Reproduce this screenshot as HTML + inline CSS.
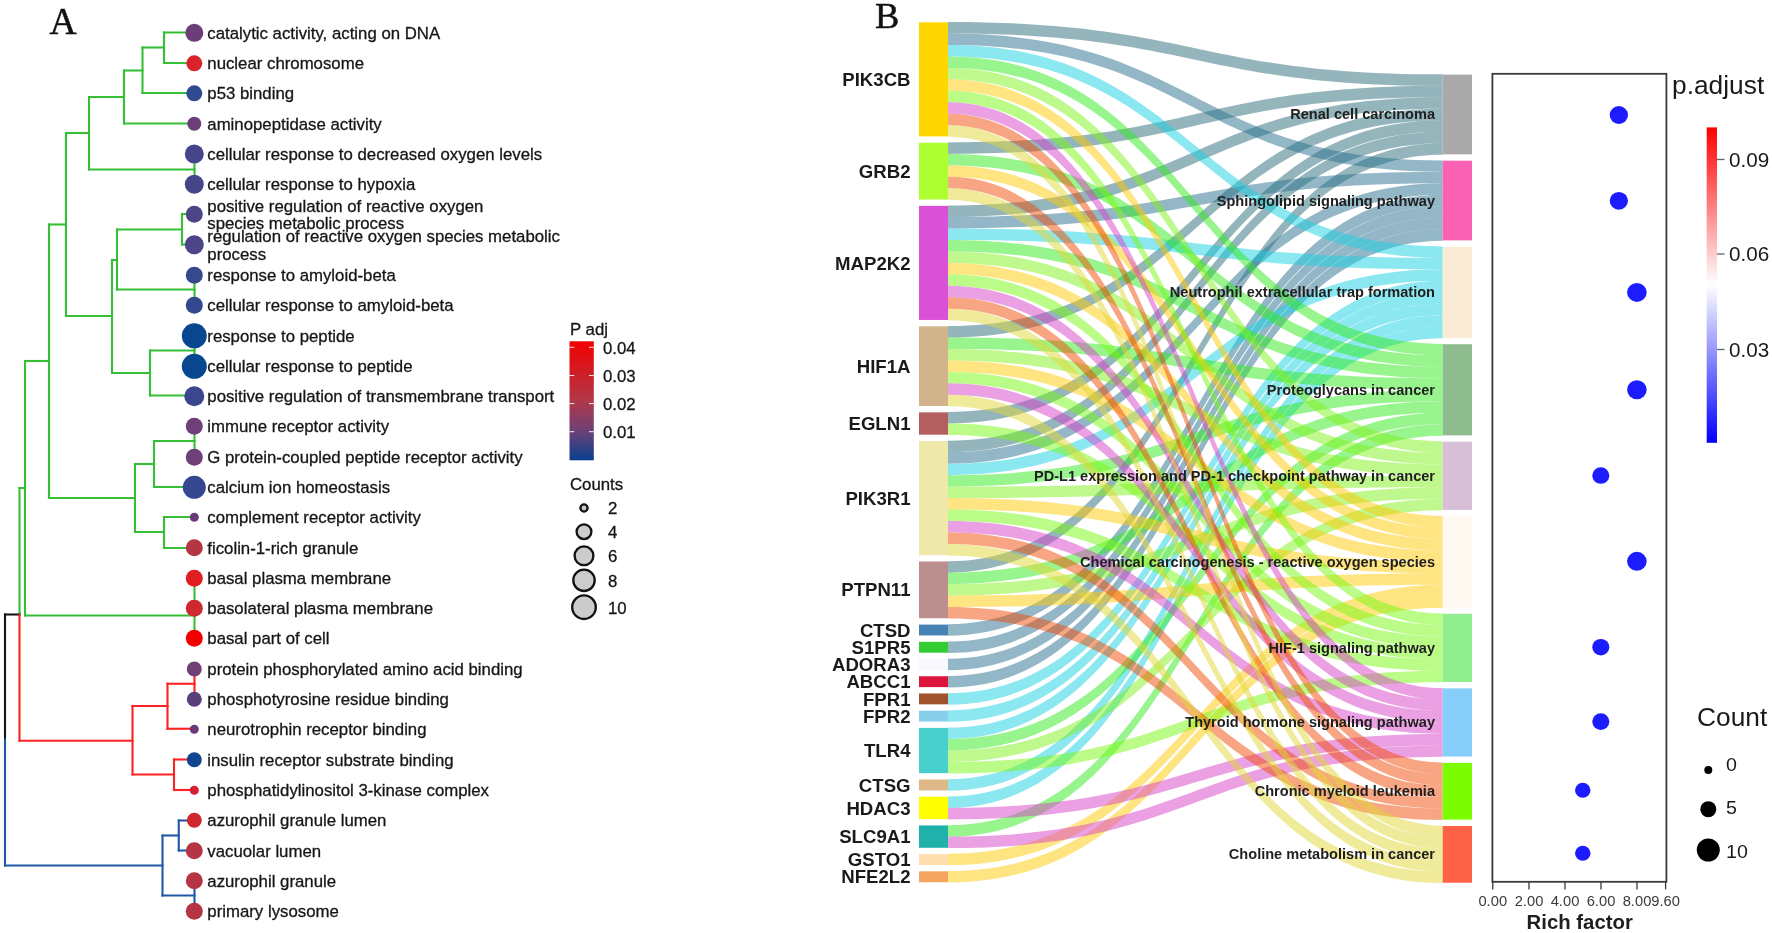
<!DOCTYPE html>
<html lang="en"><head><meta charset="utf-8"><title>Figure</title>
<style>html,body{margin:0;padding:0;background:#fff}body{width:1772px;height:933px;overflow:hidden}svg{display:block;filter:blur(0.4px)}</style>
</head><body>
<svg width="1772" height="933" viewBox="0 0 1772 933">
<g id="panelA">
<text x="49.5" y="33.8" font-family='"Liberation Serif", "Times New Roman", serif' font-size="37.5" fill="#111" stroke="#111" stroke-width="0.5">A</text>
<g stroke-linecap="square" fill="none" stroke-width="2.1">
<line x1="164" y1="32.5" x2="164" y2="63" stroke="#36bf36"/>
<line x1="164" y1="32.5" x2="194" y2="32.5" stroke="#36bf36"/>
<line x1="164" y1="63" x2="194" y2="63" stroke="#36bf36"/>
<line x1="142.5" y1="47.5" x2="142.5" y2="93" stroke="#36bf36"/>
<line x1="142.5" y1="47.5" x2="164" y2="47.5" stroke="#36bf36"/>
<line x1="142.5" y1="93" x2="194" y2="93" stroke="#36bf36"/>
<line x1="124" y1="70.5" x2="124" y2="123.5" stroke="#36bf36"/>
<line x1="124" y1="70.5" x2="142.5" y2="70.5" stroke="#36bf36"/>
<line x1="124" y1="123.5" x2="194" y2="123.5" stroke="#36bf36"/>
<line x1="89" y1="97" x2="89" y2="169.5" stroke="#36bf36"/>
<line x1="89" y1="97" x2="124" y2="97" stroke="#36bf36"/>
<line x1="89" y1="169.5" x2="194.5" y2="169.5" stroke="#36bf36"/>
<line x1="194.5" y1="153.75" x2="194.5" y2="184" stroke="#36bf36"/>
<line x1="66" y1="133" x2="66" y2="316" stroke="#36bf36"/>
<line x1="66" y1="133" x2="89" y2="133" stroke="#36bf36"/>
<line x1="66" y1="316" x2="112" y2="316" stroke="#36bf36"/>
<line x1="49" y1="224.5" x2="49" y2="498" stroke="#36bf36"/>
<line x1="49" y1="224.5" x2="66" y2="224.5" stroke="#36bf36"/>
<line x1="49" y1="498" x2="135" y2="498" stroke="#36bf36"/>
<line x1="25" y1="361" x2="25" y2="615.5" stroke="#36bf36"/>
<line x1="25" y1="361" x2="49" y2="361" stroke="#36bf36"/>
<line x1="25" y1="615.5" x2="194.5" y2="615.5" stroke="#36bf36"/>
<line x1="112" y1="260" x2="112" y2="373" stroke="#36bf36"/>
<line x1="112" y1="260" x2="117" y2="260" stroke="#36bf36"/>
<line x1="117" y1="229.5" x2="117" y2="289.5" stroke="#36bf36"/>
<line x1="117" y1="229.5" x2="182" y2="229.5" stroke="#36bf36"/>
<line x1="117" y1="289.5" x2="194.5" y2="289.5" stroke="#36bf36"/>
<line x1="194.5" y1="275" x2="194.5" y2="305" stroke="#36bf36"/>
<line x1="182" y1="214" x2="182" y2="244.5" stroke="#36bf36"/>
<line x1="182" y1="214" x2="194" y2="214" stroke="#36bf36"/>
<line x1="182" y1="244.5" x2="194" y2="244.5" stroke="#36bf36"/>
<line x1="112" y1="373" x2="150" y2="373" stroke="#36bf36"/>
<line x1="150" y1="350.5" x2="150" y2="395.5" stroke="#36bf36"/>
<line x1="150" y1="350.5" x2="194.5" y2="350.5" stroke="#36bf36"/>
<line x1="150" y1="395.5" x2="194" y2="395.5" stroke="#36bf36"/>
<line x1="194.5" y1="335.5" x2="194.5" y2="366" stroke="#36bf36"/>
<line x1="135" y1="464" x2="135" y2="532" stroke="#36bf36"/>
<line x1="135" y1="464" x2="154" y2="464" stroke="#36bf36"/>
<line x1="135" y1="532" x2="164" y2="532" stroke="#36bf36"/>
<line x1="154" y1="441" x2="154" y2="487" stroke="#36bf36"/>
<line x1="154" y1="441" x2="194.5" y2="441" stroke="#36bf36"/>
<line x1="154" y1="487" x2="194" y2="487" stroke="#36bf36"/>
<line x1="194.5" y1="426" x2="194.5" y2="457" stroke="#36bf36"/>
<line x1="164" y1="517" x2="164" y2="548" stroke="#36bf36"/>
<line x1="164" y1="517" x2="194" y2="517" stroke="#36bf36"/>
<line x1="164" y1="548" x2="194" y2="548" stroke="#36bf36"/>
<line x1="194.5" y1="578" x2="194.5" y2="638" stroke="#36bf36"/>
<line x1="19.5" y1="488" x2="25" y2="488" stroke="#36bf36"/>
<line x1="19.5" y1="488" x2="19.5" y2="615" stroke="#36bf36"/>
<line x1="5" y1="614.5" x2="19.5" y2="614.5" stroke="#161616"/>
<line x1="5" y1="614.5" x2="5" y2="739.5" stroke="#161616"/>
<line x1="19.5" y1="615" x2="19.5" y2="740.75" stroke="#ff2222"/>
<line x1="19.5" y1="740.75" x2="132.5" y2="740.75" stroke="#ff2222"/>
<line x1="132.5" y1="706" x2="132.5" y2="774.5" stroke="#ff2222"/>
<line x1="132.5" y1="706" x2="167.5" y2="706" stroke="#ff2222"/>
<line x1="132.5" y1="774.5" x2="174" y2="774.5" stroke="#ff2222"/>
<line x1="167.5" y1="683.75" x2="167.5" y2="728.75" stroke="#ff2222"/>
<line x1="167.5" y1="683.75" x2="194.5" y2="683.75" stroke="#ff2222"/>
<line x1="167.5" y1="728.75" x2="194" y2="728.75" stroke="#ff2222"/>
<line x1="194.5" y1="668.75" x2="194.5" y2="699" stroke="#ff2222"/>
<line x1="174" y1="759.5" x2="174" y2="790" stroke="#ff2222"/>
<line x1="174" y1="759.5" x2="194" y2="759.5" stroke="#ff2222"/>
<line x1="174" y1="790" x2="194" y2="790" stroke="#ff2222"/>
<line x1="5" y1="739.5" x2="5" y2="865.5" stroke="#1f58a6"/>
<line x1="5" y1="865.5" x2="162.5" y2="865.5" stroke="#1f58a6"/>
<line x1="162.5" y1="835.5" x2="162.5" y2="895.5" stroke="#1f58a6"/>
<line x1="162.5" y1="835.5" x2="178.75" y2="835.5" stroke="#1f58a6"/>
<line x1="162.5" y1="895.5" x2="194.5" y2="895.5" stroke="#1f58a6"/>
<line x1="178.75" y1="820.5" x2="178.75" y2="850.5" stroke="#1f58a6"/>
<line x1="178.75" y1="820.5" x2="194" y2="820.5" stroke="#1f58a6"/>
<line x1="178.75" y1="850.5" x2="194" y2="850.5" stroke="#1f58a6"/>
<line x1="194.5" y1="880.5" x2="194.5" y2="911" stroke="#1f58a6"/>
</g>
<g font-family='"Liberation Sans", Arial, sans-serif' font-size="16.8" fill="#161616" stroke="#161616" stroke-width="0.3">
<circle cx="194.3" cy="32.8" r="9" fill="#6b3e78" stroke="none"/>
<text x="207.3" y="38.90">catalytic activity, acting on DNA</text>
<circle cx="194.3" cy="63.3" r="8" fill="#d8232a" stroke="none"/>
<text x="207.3" y="69.40">nuclear chromosome</text>
<circle cx="194.3" cy="93.3" r="8" fill="#2f4a8f" stroke="none"/>
<text x="207.3" y="99.40">p53 binding</text>
<circle cx="194.3" cy="123.8" r="7" fill="#6b3e78" stroke="none"/>
<text x="207.3" y="129.90">aminopeptidase activity</text>
<circle cx="194.3" cy="154.05" r="9.5" fill="#47458a" stroke="none"/>
<text x="207.3" y="160.15">cellular response to decreased oxygen levels</text>
<circle cx="194.3" cy="184.3" r="9.5" fill="#47458a" stroke="none"/>
<text x="207.3" y="190.40">cellular response to hypoxia</text>
<circle cx="194.3" cy="214.3" r="8.5" fill="#4c4587" stroke="none"/>
<text x="207.3" y="211.60">positive regulation of reactive oxygen</text>
<text x="207.3" y="229.30">species metabolic process</text>
<circle cx="194.3" cy="244.8" r="9.5" fill="#4c4587" stroke="none"/>
<text x="207.3" y="242.10">regulation of reactive oxygen species metabolic</text>
<text x="207.3" y="259.80">process</text>
<circle cx="194.3" cy="275.3" r="8.5" fill="#38488f" stroke="none"/>
<text x="207.3" y="281.40">response to amyloid-beta</text>
<circle cx="194.3" cy="305.3" r="8.5" fill="#33498f" stroke="none"/>
<text x="207.3" y="311.40">cellular response to amyloid-beta</text>
<circle cx="194.3" cy="335.8" r="12.5" fill="#08468f" stroke="none"/>
<text x="207.3" y="341.90">response to peptide</text>
<circle cx="194.3" cy="366.3" r="12.5" fill="#08468f" stroke="none"/>
<text x="207.3" y="372.40">cellular response to peptide</text>
<circle cx="194.3" cy="396.3" r="10" fill="#3a468e" stroke="none"/>
<text x="207.3" y="402.40">positive regulation of transmembrane transport</text>
<circle cx="194.3" cy="426.3" r="8.5" fill="#6e3f78" stroke="none"/>
<text x="207.3" y="432.40">immune receptor activity</text>
<circle cx="194.3" cy="457.3" r="8.5" fill="#6e3f78" stroke="none"/>
<text x="207.3" y="463.40">G protein-coupled peptide receptor activity</text>
<circle cx="194.3" cy="487.3" r="11.5" fill="#34478f" stroke="none"/>
<text x="207.3" y="493.40">calcium ion homeostasis</text>
<circle cx="194.3" cy="517.3" r="4.5" fill="#6b3a75" stroke="none"/>
<text x="207.3" y="523.40">complement receptor activity</text>
<circle cx="194.3" cy="547.8" r="8.5" fill="#b33644" stroke="none"/>
<text x="207.3" y="553.90">ficolin-1-rich granule</text>
<circle cx="194.3" cy="578.3" r="8.5" fill="#e01e22" stroke="none"/>
<text x="207.3" y="584.40">basal plasma membrane</text>
<circle cx="194.3" cy="608.3" r="8.5" fill="#d02830" stroke="none"/>
<text x="207.3" y="614.40">basolateral plasma membrane</text>
<circle cx="194.3" cy="638.3" r="8.5" fill="#f20000" stroke="none"/>
<text x="207.3" y="644.40">basal part of cell</text>
<circle cx="194.3" cy="669.05" r="7.5" fill="#704075" stroke="none"/>
<text x="207.3" y="675.15">protein phosphorylated amino acid binding</text>
<circle cx="194.3" cy="699.3" r="7.5" fill="#5a4078" stroke="none"/>
<text x="207.3" y="705.40">phosphotyrosine residue binding</text>
<circle cx="194.3" cy="729.3" r="4.5" fill="#6b3a75" stroke="none"/>
<text x="207.3" y="735.40">neurotrophin receptor binding</text>
<circle cx="194.3" cy="759.8" r="7.5" fill="#10458f" stroke="none"/>
<text x="207.3" y="765.90">insulin receptor substrate binding</text>
<circle cx="194.3" cy="790.3" r="4.5" fill="#d52030" stroke="none"/>
<text x="207.3" y="796.40">phosphatidylinositol 3-kinase complex</text>
<circle cx="194.3" cy="820.3" r="7.5" fill="#d02830" stroke="none"/>
<text x="207.3" y="826.40">azurophil granule lumen</text>
<circle cx="194.3" cy="850.8" r="8.5" fill="#b53545" stroke="none"/>
<text x="207.3" y="856.90">vacuolar lumen</text>
<circle cx="194.3" cy="880.8" r="8.5" fill="#b53545" stroke="none"/>
<text x="207.3" y="886.90">azurophil granule</text>
<circle cx="194.3" cy="911.3" r="8.5" fill="#b53545" stroke="none"/>
<text x="207.3" y="917.40">primary lysosome</text>
</g>
<defs><linearGradient id="gA" x1="0" y1="0" x2="0" y2="1"><stop offset="0" stop-color="#f20000"/><stop offset="0.5" stop-color="#b03848"/><stop offset="0.75" stop-color="#6e4175"/><stop offset="1" stop-color="#083f8f"/></linearGradient>
<linearGradient id="gB" x1="0" y1="0" x2="0" y2="1"><stop offset="0" stop-color="#ff0000"/><stop offset="0.5" stop-color="#ffffff"/><stop offset="1" stop-color="#0000ff"/></linearGradient></defs>
<rect x="569.5" y="341.3" width="24.3" height="119" fill="url(#gA)"/>
<g font-family='"Liberation Sans", Arial, sans-serif' font-size="16.8" fill="#161616" stroke="#161616" stroke-width="0.3">
<text x="570" y="334.6">P adj</text>
<line x1="569.5" x2="574.3" y1="347.3" y2="347.3" stroke="#fff" stroke-width="0.9"/>
<line x1="589" x2="593.8" y1="347.3" y2="347.3" stroke="#fff" stroke-width="0.9"/>
<text x="603" y="353.8">0.04</text>
<line x1="569.5" x2="574.3" y1="375.5" y2="375.5" stroke="#fff" stroke-width="0.9"/>
<line x1="589" x2="593.8" y1="375.5" y2="375.5" stroke="#fff" stroke-width="0.9"/>
<text x="603" y="382.0">0.03</text>
<line x1="569.5" x2="574.3" y1="403.6" y2="403.6" stroke="#fff" stroke-width="0.9"/>
<line x1="589" x2="593.8" y1="403.6" y2="403.6" stroke="#fff" stroke-width="0.9"/>
<text x="603" y="410.1">0.02</text>
<line x1="569.5" x2="574.3" y1="431.7" y2="431.7" stroke="#fff" stroke-width="0.9"/>
<line x1="589" x2="593.8" y1="431.7" y2="431.7" stroke="#fff" stroke-width="0.9"/>
<text x="603" y="438.2">0.01</text>
<text x="570" y="489.7">Counts</text>
<circle cx="584" cy="508" r="3.60" fill="#cccccc" stroke="#111" stroke-width="2.3"/>
<text x="608" y="514.4">2</text>
<circle cx="584" cy="531.7" r="7.40" fill="#cccccc" stroke="#111" stroke-width="2.3"/>
<text x="608" y="538.1">4</text>
<circle cx="584" cy="555.8" r="9.40" fill="#cccccc" stroke="#111" stroke-width="2.3"/>
<text x="608" y="562.2">6</text>
<circle cx="584" cy="580.3" r="10.70" fill="#cccccc" stroke="#111" stroke-width="2.3"/>
<text x="608" y="586.7">8</text>
<circle cx="584" cy="607.2" r="11.80" fill="#cccccc" stroke="#111" stroke-width="2.3"/>
<text x="608" y="613.6">10</text>
</g>
</g>
<g id="panelB">
<text x="875" y="28" font-family='"Liberation Serif", "Times New Roman", serif' font-size="36.5" fill="#111" stroke="#111" stroke-width="0.5">B</text>
<g fill-opacity="0.5" stroke="none">
<path d="M948,22.00 C1195.3,22.00 1195.3,74.35 1442.7,74.35 L1442.7,85.82 C1195.3,85.82 1195.3,33.47 948,33.47 Z" fill="#2a6b78"/>
<path d="M948,142.45 C1195.3,142.45 1195.3,85.82 1442.7,85.82 L1442.7,97.29 C1195.3,97.29 1195.3,153.92 948,153.92 Z" fill="#2a6b78"/>
<path d="M948,205.55 C1195.3,205.55 1195.3,97.29 1442.7,97.29 L1442.7,108.76 C1195.3,108.76 1195.3,217.02 948,217.02 Z" fill="#2a6b78"/>
<path d="M948,326.00 C1195.3,326.00 1195.3,108.76 1442.7,108.76 L1442.7,120.23 C1195.3,120.23 1195.3,337.47 948,337.47 Z" fill="#2a6b78"/>
<path d="M948,412.04 C1195.3,412.04 1195.3,120.23 1442.7,120.23 L1442.7,131.70 C1195.3,131.70 1195.3,423.51 948,423.51 Z" fill="#2a6b78"/>
<path d="M948,440.73 C1195.3,440.73 1195.3,131.70 1442.7,131.70 L1442.7,143.17 C1195.3,143.17 1195.3,452.20 948,452.20 Z" fill="#2a6b78"/>
<path d="M948,561.18 C1195.3,561.18 1195.3,143.17 1442.7,143.17 L1442.7,154.64 C1195.3,154.64 1195.3,572.65 948,572.65 Z" fill="#2a6b78"/>
<path d="M948,33.47 C1195.3,33.47 1195.3,160.38 1442.7,160.38 L1442.7,171.85 C1195.3,171.85 1195.3,44.94 948,44.94 Z" fill="#2a7090"/>
<path d="M948,217.02 C1195.3,217.02 1195.3,171.85 1442.7,171.85 L1442.7,183.32 C1195.3,183.32 1195.3,228.49 948,228.49 Z" fill="#2a7090"/>
<path d="M948,452.20 C1195.3,452.20 1195.3,183.32 1442.7,183.32 L1442.7,194.79 C1195.3,194.79 1195.3,463.67 948,463.67 Z" fill="#2a7090"/>
<path d="M948,624.28 C1195.3,624.28 1195.3,194.79 1442.7,194.79 L1442.7,206.26 C1195.3,206.26 1195.3,635.75 948,635.75 Z" fill="#2a7090"/>
<path d="M948,641.50 C1195.3,641.50 1195.3,206.26 1442.7,206.26 L1442.7,217.73 C1195.3,217.73 1195.3,652.97 948,652.97 Z" fill="#2a7090"/>
<path d="M948,658.72 C1195.3,658.72 1195.3,217.73 1442.7,217.73 L1442.7,229.20 C1195.3,229.20 1195.3,670.19 948,670.19 Z" fill="#2a7090"/>
<path d="M948,675.94 C1195.3,675.94 1195.3,229.20 1442.7,229.20 L1442.7,240.67 C1195.3,240.67 1195.3,687.41 948,687.41 Z" fill="#2a7090"/>
<path d="M948,44.94 C1195.3,44.94 1195.3,246.41 1442.7,246.41 L1442.7,257.88 C1195.3,257.88 1195.3,56.41 948,56.41 Z" fill="#19d1e1"/>
<path d="M948,228.49 C1195.3,228.49 1195.3,257.88 1442.7,257.88 L1442.7,269.35 C1195.3,269.35 1195.3,239.96 948,239.96 Z" fill="#19d1e1"/>
<path d="M948,463.67 C1195.3,463.67 1195.3,269.35 1442.7,269.35 L1442.7,280.82 C1195.3,280.82 1195.3,475.14 948,475.14 Z" fill="#19d1e1"/>
<path d="M948,693.16 C1195.3,693.16 1195.3,280.82 1442.7,280.82 L1442.7,292.29 C1195.3,292.29 1195.3,704.63 948,704.63 Z" fill="#19d1e1"/>
<path d="M948,710.38 C1195.3,710.38 1195.3,292.29 1442.7,292.29 L1442.7,303.76 C1195.3,303.76 1195.3,721.85 948,721.85 Z" fill="#19d1e1"/>
<path d="M948,727.60 C1195.3,727.60 1195.3,303.76 1442.7,303.76 L1442.7,315.23 C1195.3,315.23 1195.3,739.07 948,739.07 Z" fill="#19d1e1"/>
<path d="M948,779.23 C1195.3,779.23 1195.3,315.23 1442.7,315.23 L1442.7,326.70 C1195.3,326.70 1195.3,790.70 948,790.70 Z" fill="#19d1e1"/>
<path d="M948,796.45 C1195.3,796.45 1195.3,326.70 1442.7,326.70 L1442.7,338.17 C1195.3,338.17 1195.3,807.92 948,807.92 Z" fill="#19d1e1"/>
<path d="M948,56.41 C1195.3,56.41 1195.3,343.91 1442.7,343.91 L1442.7,355.38 C1195.3,355.38 1195.3,67.88 948,67.88 Z" fill="#32eb1e"/>
<path d="M948,153.92 C1195.3,153.92 1195.3,355.38 1442.7,355.38 L1442.7,366.85 C1195.3,366.85 1195.3,165.39 948,165.39 Z" fill="#32eb1e"/>
<path d="M948,239.96 C1195.3,239.96 1195.3,366.85 1442.7,366.85 L1442.7,378.32 C1195.3,378.32 1195.3,251.43 948,251.43 Z" fill="#32eb1e"/>
<path d="M948,337.47 C1195.3,337.47 1195.3,378.32 1442.7,378.32 L1442.7,389.79 C1195.3,389.79 1195.3,348.94 948,348.94 Z" fill="#32eb1e"/>
<path d="M948,475.14 C1195.3,475.14 1195.3,389.79 1442.7,389.79 L1442.7,401.26 C1195.3,401.26 1195.3,486.61 948,486.61 Z" fill="#32eb1e"/>
<path d="M948,572.65 C1195.3,572.65 1195.3,401.26 1442.7,401.26 L1442.7,412.73 C1195.3,412.73 1195.3,584.12 948,584.12 Z" fill="#32eb1e"/>
<path d="M948,739.07 C1195.3,739.07 1195.3,412.73 1442.7,412.73 L1442.7,424.20 C1195.3,424.20 1195.3,750.54 948,750.54 Z" fill="#32eb1e"/>
<path d="M948,825.14 C1195.3,825.14 1195.3,424.20 1442.7,424.20 L1442.7,435.67 C1195.3,435.67 1195.3,836.61 948,836.61 Z" fill="#32eb1e"/>
<path d="M948,67.88 C1195.3,67.88 1195.3,441.41 1442.7,441.41 L1442.7,452.88 C1195.3,452.88 1195.3,79.35 948,79.35 Z" fill="#7ff119"/>
<path d="M948,251.43 C1195.3,251.43 1195.3,452.88 1442.7,452.88 L1442.7,464.35 C1195.3,464.35 1195.3,262.90 948,262.90 Z" fill="#7ff119"/>
<path d="M948,348.94 C1195.3,348.94 1195.3,464.35 1442.7,464.35 L1442.7,475.82 C1195.3,475.82 1195.3,360.41 948,360.41 Z" fill="#7ff119"/>
<path d="M948,486.61 C1195.3,486.61 1195.3,475.82 1442.7,475.82 L1442.7,487.29 C1195.3,487.29 1195.3,498.08 948,498.08 Z" fill="#7ff119"/>
<path d="M948,584.12 C1195.3,584.12 1195.3,487.29 1442.7,487.29 L1442.7,498.76 C1195.3,498.76 1195.3,595.59 948,595.59 Z" fill="#7ff119"/>
<path d="M948,750.54 C1195.3,750.54 1195.3,498.76 1442.7,498.76 L1442.7,510.23 C1195.3,510.23 1195.3,762.01 948,762.01 Z" fill="#7ff119"/>
<path d="M948,79.35 C1195.3,79.35 1195.3,515.97 1442.7,515.97 L1442.7,527.44 C1195.3,527.44 1195.3,90.82 948,90.82 Z" fill="#ffc905"/>
<path d="M948,165.39 C1195.3,165.39 1195.3,527.44 1442.7,527.44 L1442.7,538.91 C1195.3,538.91 1195.3,176.86 948,176.86 Z" fill="#ffc905"/>
<path d="M948,262.90 C1195.3,262.90 1195.3,538.91 1442.7,538.91 L1442.7,550.38 C1195.3,550.38 1195.3,274.37 948,274.37 Z" fill="#ffc905"/>
<path d="M948,360.41 C1195.3,360.41 1195.3,550.38 1442.7,550.38 L1442.7,561.85 C1195.3,561.85 1195.3,371.88 948,371.88 Z" fill="#ffc905"/>
<path d="M948,498.08 C1195.3,498.08 1195.3,561.85 1442.7,561.85 L1442.7,573.32 C1195.3,573.32 1195.3,509.55 948,509.55 Z" fill="#ffc905"/>
<path d="M948,595.59 C1195.3,595.59 1195.3,573.32 1442.7,573.32 L1442.7,584.79 C1195.3,584.79 1195.3,607.06 948,607.06 Z" fill="#ffc905"/>
<path d="M948,853.83 C1195.3,853.83 1195.3,584.79 1442.7,584.79 L1442.7,596.26 C1195.3,596.26 1195.3,865.30 948,865.30 Z" fill="#ffc905"/>
<path d="M948,871.05 C1195.3,871.05 1195.3,596.26 1442.7,596.26 L1442.7,607.73 C1195.3,607.73 1195.3,882.52 948,882.52 Z" fill="#ffc905"/>
<path d="M948,90.82 C1195.3,90.82 1195.3,613.47 1442.7,613.47 L1442.7,624.94 C1195.3,624.94 1195.3,102.29 948,102.29 Z" fill="#75f90f"/>
<path d="M948,274.37 C1195.3,274.37 1195.3,624.94 1442.7,624.94 L1442.7,636.41 C1195.3,636.41 1195.3,285.84 948,285.84 Z" fill="#75f90f"/>
<path d="M948,371.88 C1195.3,371.88 1195.3,636.41 1442.7,636.41 L1442.7,647.88 C1195.3,647.88 1195.3,383.35 948,383.35 Z" fill="#75f90f"/>
<path d="M948,423.51 C1195.3,423.51 1195.3,647.88 1442.7,647.88 L1442.7,659.35 C1195.3,659.35 1195.3,434.98 948,434.98 Z" fill="#75f90f"/>
<path d="M948,509.55 C1195.3,509.55 1195.3,659.35 1442.7,659.35 L1442.7,670.82 C1195.3,670.82 1195.3,521.02 948,521.02 Z" fill="#75f90f"/>
<path d="M948,762.01 C1195.3,762.01 1195.3,670.82 1442.7,670.82 L1442.7,682.29 C1195.3,682.29 1195.3,773.48 948,773.48 Z" fill="#75f90f"/>
<path d="M948,102.29 C1195.3,102.29 1195.3,688.03 1442.7,688.03 L1442.7,699.50 C1195.3,699.50 1195.3,113.76 948,113.76 Z" fill="#d741c9"/>
<path d="M948,285.84 C1195.3,285.84 1195.3,699.50 1442.7,699.50 L1442.7,710.97 C1195.3,710.97 1195.3,297.31 948,297.31 Z" fill="#d741c9"/>
<path d="M948,383.35 C1195.3,383.35 1195.3,710.97 1442.7,710.97 L1442.7,722.44 C1195.3,722.44 1195.3,394.82 948,394.82 Z" fill="#d741c9"/>
<path d="M948,521.02 C1195.3,521.02 1195.3,722.44 1442.7,722.44 L1442.7,733.91 C1195.3,733.91 1195.3,532.49 948,532.49 Z" fill="#d741c9"/>
<path d="M948,807.92 C1195.3,807.92 1195.3,733.91 1442.7,733.91 L1442.7,745.38 C1195.3,745.38 1195.3,819.39 948,819.39 Z" fill="#d741c9"/>
<path d="M948,836.61 C1195.3,836.61 1195.3,745.38 1442.7,745.38 L1442.7,756.85 C1195.3,756.85 1195.3,848.08 948,848.08 Z" fill="#d741c9"/>
<path d="M948,113.76 C1195.3,113.76 1195.3,762.59 1442.7,762.59 L1442.7,774.06 C1195.3,774.06 1195.3,125.23 948,125.23 Z" fill="#ef4b05"/>
<path d="M948,176.86 C1195.3,176.86 1195.3,774.06 1442.7,774.06 L1442.7,785.53 C1195.3,785.53 1195.3,188.33 948,188.33 Z" fill="#ef4b05"/>
<path d="M948,297.31 C1195.3,297.31 1195.3,785.53 1442.7,785.53 L1442.7,797.00 C1195.3,797.00 1195.3,308.78 948,308.78 Z" fill="#ef4b05"/>
<path d="M948,532.49 C1195.3,532.49 1195.3,797.00 1442.7,797.00 L1442.7,808.47 C1195.3,808.47 1195.3,543.96 948,543.96 Z" fill="#ef4b05"/>
<path d="M948,607.06 C1195.3,607.06 1195.3,808.47 1442.7,808.47 L1442.7,819.94 C1195.3,819.94 1195.3,618.53 948,618.53 Z" fill="#ef4b05"/>
<path d="M948,125.23 C1195.3,125.23 1195.3,825.68 1442.7,825.68 L1442.7,837.15 C1195.3,837.15 1195.3,136.70 948,136.70 Z" fill="#e1d737"/>
<path d="M948,188.33 C1195.3,188.33 1195.3,837.15 1442.7,837.15 L1442.7,848.62 C1195.3,848.62 1195.3,199.80 948,199.80 Z" fill="#e1d737"/>
<path d="M948,308.78 C1195.3,308.78 1195.3,848.62 1442.7,848.62 L1442.7,860.09 C1195.3,860.09 1195.3,320.25 948,320.25 Z" fill="#e1d737"/>
<path d="M948,394.82 C1195.3,394.82 1195.3,860.09 1442.7,860.09 L1442.7,871.56 C1195.3,871.56 1195.3,406.29 948,406.29 Z" fill="#e1d737"/>
<path d="M948,543.96 C1195.3,543.96 1195.3,871.56 1442.7,871.56 L1442.7,883.03 C1195.3,883.03 1195.3,555.43 948,555.43 Z" fill="#e1d737"/>
</g>
<rect x="919" y="22.30" width="29" height="114.10" fill="#ffd700"/>
<rect x="919" y="142.75" width="29" height="56.75" fill="#adff2f"/>
<rect x="919" y="205.85" width="29" height="114.10" fill="#da50d6"/>
<rect x="919" y="326.30" width="29" height="79.69" fill="#d2b48c"/>
<rect x="919" y="412.34" width="29" height="22.34" fill="#b35f5f"/>
<rect x="919" y="441.03" width="29" height="114.10" fill="#eee8aa"/>
<rect x="919" y="561.48" width="29" height="56.75" fill="#bc8f8f"/>
<rect x="919" y="624.58" width="29" height="10.87" fill="#4682b4"/>
<rect x="919" y="641.80" width="29" height="10.87" fill="#32cd32"/>
<rect x="919" y="659.02" width="29" height="10.87" fill="#f8f8ff"/>
<rect x="919" y="676.24" width="29" height="10.87" fill="#dc143c"/>
<rect x="919" y="693.46" width="29" height="10.87" fill="#a0522d"/>
<rect x="919" y="710.68" width="29" height="10.87" fill="#87ceeb"/>
<rect x="919" y="727.90" width="29" height="45.28" fill="#48d1cc"/>
<rect x="919" y="779.53" width="29" height="10.87" fill="#deb887"/>
<rect x="919" y="796.75" width="29" height="22.34" fill="#ffff00"/>
<rect x="919" y="825.44" width="29" height="22.34" fill="#20b2aa"/>
<rect x="919" y="854.13" width="29" height="10.87" fill="#ffdead"/>
<rect x="919" y="871.35" width="29" height="10.87" fill="#f4a460"/>
<rect x="1442.7" y="74.65" width="29.3" height="79.69" fill="#a9a9a9"/>
<rect x="1442.7" y="160.68" width="29.3" height="79.69" fill="#fb62b4"/>
<rect x="1442.7" y="246.71" width="29.3" height="91.16" fill="#faebd7"/>
<rect x="1442.7" y="344.21" width="29.3" height="91.16" fill="#8fbc8f"/>
<rect x="1442.7" y="441.71" width="29.3" height="68.22" fill="#d8bfd8"/>
<rect x="1442.7" y="516.27" width="29.3" height="91.16" fill="#fff9f2"/>
<rect x="1442.7" y="613.77" width="29.3" height="68.22" fill="#90ee90"/>
<rect x="1442.7" y="688.33" width="29.3" height="68.22" fill="#87cefa"/>
<rect x="1442.7" y="762.89" width="29.3" height="56.75" fill="#7cfc00"/>
<rect x="1442.7" y="825.98" width="29.3" height="56.75" fill="#ff6347"/>
<g font-family='"Liberation Sans", Arial, sans-serif' font-weight="bold" font-size="18.6" fill="#1a1a1a" text-anchor="end">
<text x="910.5" y="85.95">PIK3CB</text>
<text x="910.5" y="177.72">GRB2</text>
<text x="910.5" y="269.50">MAP2K2</text>
<text x="910.5" y="372.75">HIF1A</text>
<text x="910.5" y="430.11">EGLN1</text>
<text x="910.5" y="504.68">PIK3R1</text>
<text x="910.5" y="596.46">PTPN11</text>
<text x="910.5" y="636.62">CTSD</text>
<text x="910.5" y="653.84">S1PR5</text>
<text x="910.5" y="671.06">ADORA3</text>
<text x="910.5" y="688.28">ABCC1</text>
<text x="910.5" y="705.50">FPR1</text>
<text x="910.5" y="722.72">FPR2</text>
<text x="910.5" y="757.14">TLR4</text>
<text x="910.5" y="791.57">CTSG</text>
<text x="910.5" y="814.52">HDAC3</text>
<text x="910.5" y="843.21">SLC9A1</text>
<text x="910.5" y="866.17">GSTO1</text>
<text x="910.5" y="883.39">NFE2L2</text>
</g>
<g font-family='"Liberation Sans", Arial, sans-serif' font-weight="bold" font-size="14.55" fill="#1f1f1f" text-anchor="end">
<text x="1435" y="119.49">Renal cell carcinoma</text>
<text x="1435" y="205.53">Sphingolipid signaling pathway</text>
<text x="1435" y="297.29">Neutrophil extracellular trap formation</text>
<text x="1435" y="394.79">Proteoglycans in cancer</text>
<text x="1435" y="480.82">PD-L1 expression and PD-1 checkpoint pathway in cancer</text>
<text x="1435" y="566.85">Chemical carcinogenesis - reactive oxygen species</text>
<text x="1435" y="652.88">HIF-1 signaling pathway</text>
<text x="1435" y="727.44">Thyroid hormone signaling pathway</text>
<text x="1435" y="796.26">Chronic myeloid leukemia</text>
<text x="1435" y="859.36">Choline metabolism in cancer</text>
</g>
<rect x="1492.4" y="73.8" width="174.0" height="808.0" fill="#fff" stroke="#3a3a3a" stroke-width="1.8"/>
<ellipse cx="1618.85" cy="115.00" rx="9.17" ry="8.90" fill="#1c1cff"/>
<ellipse cx="1618.85" cy="200.83" rx="9.17" ry="8.90" fill="#1c1cff"/>
<ellipse cx="1636.90" cy="292.39" rx="9.79" ry="9.50" fill="#1c1cff"/>
<ellipse cx="1636.90" cy="389.68" rx="9.79" ry="9.50" fill="#1c1cff"/>
<ellipse cx="1600.80" cy="475.51" rx="8.55" ry="8.30" fill="#1c1cff"/>
<ellipse cx="1636.90" cy="561.35" rx="9.79" ry="9.50" fill="#1c1cff"/>
<ellipse cx="1600.80" cy="647.19" rx="8.55" ry="8.30" fill="#1c1cff"/>
<ellipse cx="1600.80" cy="721.58" rx="8.55" ry="8.30" fill="#1c1cff"/>
<ellipse cx="1582.75" cy="790.26" rx="7.73" ry="7.50" fill="#1c1cff"/>
<ellipse cx="1582.75" cy="853.21" rx="7.73" ry="7.50" fill="#1c1cff"/>
<g font-family='"Liberation Sans", Arial, sans-serif' fill="#3a3a3a">
<line x1="1492.75" x2="1492.75" y1="881.8" y2="889.4" stroke="#3a3a3a" stroke-width="1.3"/>
<text transform="translate(1492.75,906.4) scale(1.045,1)" font-size="14.1" text-anchor="middle" font-weight="normal">0.00</text>
<line x1="1529" x2="1529" y1="881.8" y2="889.4" stroke="#3a3a3a" stroke-width="1.3"/>
<text transform="translate(1529,906.4) scale(1.045,1)" font-size="14.1" text-anchor="middle" font-weight="normal">2.00</text>
<line x1="1565" x2="1565" y1="881.8" y2="889.4" stroke="#3a3a3a" stroke-width="1.3"/>
<text transform="translate(1565,906.4) scale(1.045,1)" font-size="14.1" text-anchor="middle" font-weight="normal">4.00</text>
<line x1="1601" x2="1601" y1="881.8" y2="889.4" stroke="#3a3a3a" stroke-width="1.3"/>
<text transform="translate(1601,906.4) scale(1.045,1)" font-size="14.1" text-anchor="middle" font-weight="normal">6.00</text>
<line x1="1637" x2="1637" y1="881.8" y2="889.4" stroke="#3a3a3a" stroke-width="1.3"/>
<text transform="translate(1637,906.4) scale(1.045,1)" font-size="14.1" text-anchor="middle" font-weight="normal">8.00</text>
<line x1="1665.6" x2="1665.6" y1="881.8" y2="889.4" stroke="#3a3a3a" stroke-width="1.3"/>
<text transform="translate(1665.6,906.4) scale(1.045,1)" font-size="14.1" text-anchor="middle" font-weight="normal">9.60</text>
</g>
<g font-family='"Liberation Sans", Arial, sans-serif' fill="#1f1f1f"><text transform="translate(1579.7,928.7) scale(1.045,1)" font-size="19.5" text-anchor="middle" font-weight="bold">Rich factor</text></g>
<g font-family='"Liberation Sans", Arial, sans-serif' fill="#1a1a1a">
<text transform="translate(1672,93.6) scale(1.045,1)" font-size="25.2" text-anchor="start" font-weight="normal">p.adjust</text>
<rect x="1706.7" y="127.4" width="10.3" height="315.4" fill="url(#gB)"/>
<line x1="1717" x2="1724.5" y1="159.5" y2="159.5" stroke="#5c6570" stroke-width="1.3"/>
<text transform="translate(1729,166.8) scale(1.06,1)" font-size="19.5" text-anchor="start" font-weight="normal">0.09</text>
<line x1="1717" x2="1724.5" y1="254" y2="254" stroke="#5c6570" stroke-width="1.3"/>
<text transform="translate(1729,261.3) scale(1.06,1)" font-size="19.5" text-anchor="start" font-weight="normal">0.06</text>
<line x1="1717" x2="1724.5" y1="349.5" y2="349.5" stroke="#5c6570" stroke-width="1.3"/>
<text transform="translate(1729,356.8) scale(1.06,1)" font-size="19.5" text-anchor="start" font-weight="normal">0.03</text>
<text transform="translate(1697,725.9) scale(1.045,1)" font-size="25.2" text-anchor="start" font-weight="normal">Count</text>
<circle cx="1708.3" cy="770" r="4" fill="#000"/>
<text transform="translate(1726,771) scale(1.045,1)" font-size="18.8" text-anchor="start" font-weight="normal">0</text>
<circle cx="1708.3" cy="809.25" r="8" fill="#000"/>
<text transform="translate(1726,813.8) scale(1.045,1)" font-size="18.8" text-anchor="start" font-weight="normal">5</text>
<circle cx="1708.3" cy="850" r="11.5" fill="#000"/>
<text transform="translate(1726,857.5) scale(1.045,1)" font-size="18.8" text-anchor="start" font-weight="normal">10</text>
</g>
</g>
</svg>
</body></html>
